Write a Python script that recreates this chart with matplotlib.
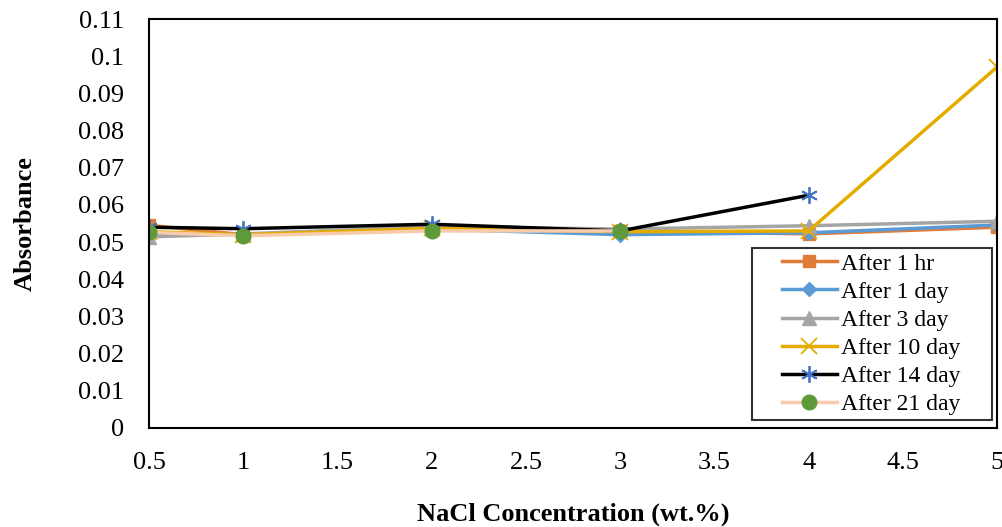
import matplotlib.pyplot as plt
from matplotlib.lines import Line2D
from matplotlib.legend_handler import HandlerLine2D

plt.rcParams["font.family"] = ["Liberation Serif", "DejaVu Serif"]

# NaCl concentration (wt.%) and absorbance readings over time
nacl = [0.5, 1, 2, 3, 4, 5]
after_1hr = [0.0545, 0.0520, 0.0532, 0.0530, 0.0522, 0.0540]
after_1day = [0.0522, 0.0520, 0.0535, 0.0520, 0.0525, 0.0546]
after_3day = [0.0514, 0.0522, 0.0542, 0.0535, 0.0544, 0.0556]
after_10day = [0.0528, 0.0520, 0.0537, 0.0528, 0.0530, 0.0971]
after_14day = [0.0540, 0.0536, 0.0548, 0.0530, 0.0626]
after_21day = [0.0526, 0.0517, 0.0530, 0.0530]

fig = plt.figure(figsize=(10.03, 5.27), dpi=100)
ax = fig.add_axes([0.1486, 0.1879, 0.8455, 0.776])

ax.plot(nacl, after_1hr, color="#E07B39", lw=2.5, marker="s", ms=9,
        label="After 1 hr")
ax.plot(nacl, after_1day, color="#5B9BD5", lw=2.5, marker="D", ms=7.5,
        label="After 1 day")
ax.plot(nacl, after_3day, color="#A5A5A5", lw=2.5, marker="^", ms=10,
        label="After 3 day")
ax.plot(nacl, after_10day, color="#E5AC00", lw=2.5, marker="x", ms=11,
        mew=1.3, label="After 10 day")
ax.plot(nacl[:5], after_14day, color="black", lw=2.5, marker=(6, 2, 0),
        ms=12, mew=1.3, mec="#4472C4", label="After 14 day")
ax.plot(nacl[:4], after_21day, color="#F8CBAD", lw=2.5, marker="o", ms=10.5,
        mfc="#5E9A3A", mec="#5E9A3A", label="After 21 day")

ax.set_xlim(0.5, 5)
ax.set_ylim(0, 0.11)
ax.set_xticks([0.5, 1, 1.5, 2, 2.5, 3, 3.5, 4, 4.5, 5])
ax.set_xticklabels(["0.5", "1", "1.5", "2", "2.5", "3", "3.5", "4", "4.5", "5"])
ax.set_yticks([i / 100 for i in range(12)])
ax.set_yticklabels(["0", "0.01", "0.02", "0.03", "0.04", "0.05", "0.06",
                    "0.07", "0.08", "0.09", "0.1", "0.11"])
ax.tick_params(length=0, labelsize=19)
ax.tick_params(axis="y", pad=18)
ax.tick_params(axis="x", pad=17)
for s in ax.spines.values():
    s.set_linewidth(1.5)
    s.set_color("black")

ax.set_ylabel("Absorbance", fontsize=19, fontweight="bold", labelpad=30)
ax.set_xlabel("NaCl Concentration (wt.%)", fontsize=19, fontweight="bold",
              labelpad=21)

# legend box stretched to a fixed width, entries left-aligned inside
leg = ax.legend(loc="lower left", bbox_to_anchor=(0.711, 0.0196, 0.283, 0.4),
                mode="expand", fontsize=17, frameon=True, fancybox=False,
                borderpad=0.2, labelspacing=0.28, handlelength=3.4,
                handletextpad=0.15, borderaxespad=0,
                handler_map={Line2D: HandlerLine2D(xpad=1.06)})
leg.get_frame().set_edgecolor("black")
leg.get_frame().set_linewidth(1.5)

fig.savefig("out.png", dpi=100)
